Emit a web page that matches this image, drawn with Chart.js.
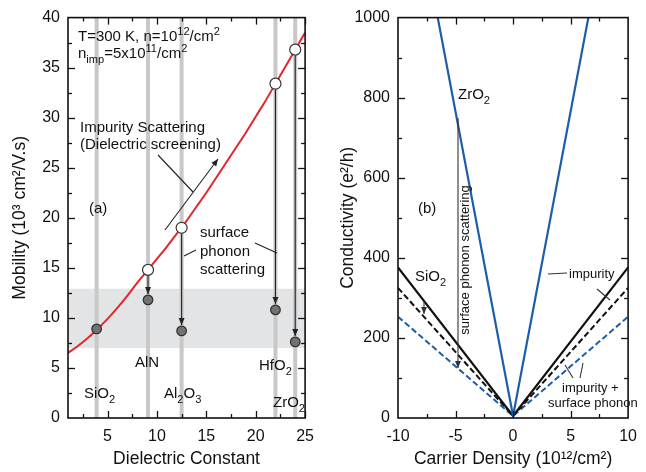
<!DOCTYPE html>
<html>
<head>
<meta charset="utf-8">
<script src="https://cdn.jsdelivr.net/npm/chart.js@4.4.1/dist/chart.umd.min.js"></script>
<style>
  html, body { margin: 0; padding: 0; background: #fff; }
  #wrap { position: relative; width: 646px; height: 472px; }
  canvas { position: absolute; top: 0; }
  #mobChart { left: 0; }
  #condChart { left: 323px; }
</style>
</head>
<body>
<div id="wrap">
  <canvas id="mobChart" width="323" height="472"></canvas>
  <canvas id="condChart" width="323" height="472"></canvas>
</div>
<script>
// panel (a): mobility vs dielectric constant
var dielectric = [1, 2, 3, 4, 5, 6, 7, 8, 9, 10, 11, 12, 13, 14, 15, 16, 17, 18, 19, 20, 21, 22, 23, 24, 25];
var impurityMobility = [6.5, 7.2, 8.0, 8.9, 9.9, 11.0, 12.2, 13.5, 14.7, 15.9, 17.1, 18.4, 19.7, 21.1, 22.5, 24.0, 25.5, 27.0, 28.5, 30.1, 31.7, 33.4, 35.1, 36.8, 38.5];
var materials = ['SiO2', 'AlN', 'Al2O3', 'HfO2', 'ZrO2'];
var materialK = [3.9, 9.1, 12.5, 22, 24];
var impurityOnly = [null, 14.8, 19, 33.4, 36.8];
var totalMobility = [8.9, 11.8, 8.7, 10.8, 7.6];
var bandLow = 7, bandHigh = 12.9;
var mobXTicks = [5, 10, 15, 20, 25];
var mobXMinor = [2.5, 7.5, 12.5, 17.5, 22.5];
var mobYMinor = [2.5, 7.5, 12.5, 17.5, 22.5, 27.5, 32.5, 37.5];

// panel (b): conductivity vs carrier density
var density = [-10, 0, 10];
var sigmaZrO2Imp = [1525, 5, 1525];
var sigmaSiO2Imp = [376, 5, 376];
var sigmaSiO2Total = [325, 5, 325];
var sigmaZrO2Total = [253, 5, 253];
var condXMinor = [-7.5, -2.5, 2.5, 7.5];
var condYMinor = [100, 300, 500, 700, 900];

var FONT = '"Liberation Sans", Arial, Helvetica, sans-serif';
var RED = '#e3262b', BLUE = '#1d5ea8';

function pts(xs, ys) {
  var out = [];
  for (var i = 0; i < xs.length; i++) if (ys[i] !== null) out.push({x: xs[i], y: ys[i]});
  return out;
}

function rich(ctx, x, y, parts, size) {
  var cx = x;
  ctx.textAlign = 'left';
  ctx.textBaseline = 'alphabetic';
  parts.forEach(function(p) {
    var m = p[1];
    var fs = m ? size * 0.74 : size;
    ctx.font = fs + 'px ' + FONT;
    var dy = m === 'sup' ? -size * 0.4 : (m === 'sub' ? size * 0.3 : 0);
    ctx.fillText(p[0], cx, y + dy);
    cx += ctx.measureText(p[0]).width;
  });
}

function line(ctx, x1, y1, x2, y2) {
  ctx.beginPath(); ctx.moveTo(x1, y1); ctx.lineTo(x2, y2); ctx.stroke();
}

function arrow(ctx, x1, y1, x2, y2) {
  line(ctx, x1, y1, x2, y2);
  var a = Math.atan2(y2 - y1, x2 - x1), L = 7, W = 3;
  ctx.beginPath();
  ctx.moveTo(x2, y2);
  ctx.lineTo(x2 - L * Math.cos(a) + W * Math.sin(a), y2 - L * Math.sin(a) - W * Math.cos(a));
  ctx.lineTo(x2 - L * Math.cos(a) - W * Math.sin(a), y2 - L * Math.sin(a) + W * Math.cos(a));
  ctx.closePath();
  ctx.fill();
}

// frame and inward ticks on all four sides
function frameTicks(chart, xMajor, xMinor, yMajor, yMinor) {
  var ctx = chart.ctx, a = chart.chartArea, sx = chart.scales.x, sy = chart.scales.y;
  ctx.save();
  ctx.strokeStyle = '#111';
  ctx.lineWidth = 1.3;
  [[xMajor, 7], [xMinor, 4]].forEach(function(s) {
    s[0].forEach(function(v) {
      var px = Math.round(sx.getPixelForValue(v)) + 0.5;
      line(ctx, px, a.bottom, px, a.bottom - s[1]);
      line(ctx, px, a.top, px, a.top + s[1]);
    });
  });
  [[yMajor, 7], [yMinor, 4]].forEach(function(s) {
    s[0].forEach(function(v) {
      var py = Math.round(sy.getPixelForValue(v)) + 0.5;
      line(ctx, a.left, py, a.left + s[1], py);
      line(ctx, a.right, py, a.right - s[1], py);
    });
  });
  ctx.lineWidth = 1.6;
  ctx.strokeRect(a.left, a.top, a.right - a.left, a.bottom - a.top);
  ctx.restore();
}

function baseScales(xmin, xmax, ymin, ymax, yStep, yw, xTitle, yTitle, yTitlePad) {
  return {
    x: {
      type: 'linear', min: xmin, max: xmax,
      grid: {display: false, drawTicks: false},
      border: {display: false},
      ticks: {stepSize: 5, padding: 9, color: '#111', font: {family: FONT, size: 16}},
      title: {display: true, text: xTitle, color: '#111', font: {family: FONT, size: 17.5}, padding: {top: 0, bottom: 2}},
      afterFit: function(s) { s.height = 54; }
    },
    y: {
      type: 'linear', min: ymin, max: ymax,
      grid: {display: false, drawTicks: false},
      border: {display: false},
      ticks: {stepSize: yStep, padding: 8, color: '#111', font: {family: FONT, size: 16},
        callback: function(v) { return String(v); }},
      title: {display: true, text: yTitle, color: '#111', font: {family: FONT, size: 17.5}, padding: {top: yTitlePad, bottom: 0}},
      afterFit: function(s) { s.width = yw; }
    }
  };
}

var commonPlugins = {legend: {display: false}, tooltip: {enabled: false}};

// ---------- panel (a) ----------
var mobScales = baseScales(1, 25, 0, 40, 5, 68, 'Dielectric Constant', 'Mobility (10\u00B3 cm\u00B2/V.s)', 10);
mobScales.x.afterBuildTicks = function(s) { s.ticks = mobXTicks.map(function(v) { return {value: v}; }); };

var mobDatasets = [{
  data: [{x: 1, y: bandHigh}, {x: 25, y: bandHigh}],
  showLine: true, borderWidth: 0, pointRadius: 0,
  backgroundColor: '#e3e4e6', fill: {value: bandLow}, order: 6
}];
materialK.forEach(function(k) {
  mobDatasets.push({
    data: [{x: k, y: 0}, {x: k, y: 40}], showLine: true,
    borderColor: '#c8c8c8', borderWidth: 4, pointRadius: 0, order: 5
  });
});
mobDatasets.push({
  data: pts(dielectric, impurityMobility), showLine: true,
  borderColor: RED, borderWidth: 2, pointRadius: 0,
  cubicInterpolationMode: 'monotone', order: 3
});
mobDatasets.push({
  data: pts(materialK, impurityOnly), pointRadius: 5.5,
  pointBackgroundColor: '#fff', pointBorderColor: '#333', pointBorderWidth: 1.2, order: 1
});
mobDatasets.push({
  data: pts(materialK, totalMobility), pointRadius: 4.8,
  pointBackgroundColor: '#727272', pointBorderColor: '#2e2e2e', pointBorderWidth: 1.2, order: 1
});

var mobPlugin = {
  id: 'mobDecor',
  afterDatasetsDraw: function(chart) {
    var ctx = chart.ctx, sx = chart.scales.x, sy = chart.scales.y;
    frameTicks(chart, mobXTicks, mobXMinor, [5, 10, 15, 20, 25, 30, 35], mobYMinor);
    ctx.save();
    ctx.strokeStyle = '#222'; ctx.fillStyle = '#222'; ctx.lineWidth = 1.1;
    // surface phonon arrows from impurity-only to total mobility
    for (var i = 0; i < materialK.length; i++) {
      if (impurityOnly[i] === null) continue;
      var px = sx.getPixelForValue(materialK[i]);
      arrow(ctx, px, sy.getPixelForValue(impurityOnly[i]) + 6, px, sy.getPixelForValue(totalMobility[i]) - 6);
    }
    arrow(ctx, 165, 230, 218, 159);
    line(ctx, 158, 155, 193, 192);
    line(ctx, 196, 250, 184, 256);
    line(ctx, 255, 243, 277, 253);
    ctx.fillStyle = '#111';
    rich(ctx, 78, 41, [['T=300 K, n=10'], ['12', 'sup'], ['/cm'], ['2', 'sup']], 15);
    rich(ctx, 78, 58, [['n'], ['imp', 'sub'], ['=5x10'], ['11', 'sup'], ['/cm'], ['2', 'sup']], 15);
    rich(ctx, 80, 132, [['Impurity Scattering']], 15);
    rich(ctx, 80, 149, [['(Dielectric screening)']], 15);
    rich(ctx, 89, 213, [['(a)']], 15);
    rich(ctx, 200, 237, [['surface']], 15);
    rich(ctx, 200, 256, [['phonon']], 15);
    rich(ctx, 200, 274, [['scattering']], 15);
    rich(ctx, 135, 367, [['AlN']], 15);
    rich(ctx, 84, 398, [['SiO'], ['2', 'sub']], 15);
    rich(ctx, 164, 398, [['Al'], ['2', 'sub'], ['O'], ['3', 'sub']], 15);
    rich(ctx, 259, 370, [['HfO'], ['2', 'sub']], 15);
    rich(ctx, 273, 407, [['ZrO'], ['2', 'sub']], 15);
    ctx.restore();
  }
};

new Chart(document.getElementById('mobChart').getContext('2d'), {
  type: 'scatter',
  data: {datasets: mobDatasets},
  options: {
    responsive: false, animation: false,
    layout: {padding: {left: 0, right: 16, top: 15, bottom: 0}},
    scales: mobScales,
    plugins: commonPlugins
  },
  plugins: [mobPlugin]
});

// ---------- panel (b) ----------
var condScales = baseScales(-10, 10, 0, 1000, 200, 75, 'Carrier Density (10\u00B9\u00B2/cm\u00B2)', 'Conductivity (e\u00B2/h)', 15);

var condPlugin = {
  id: 'condDecor',
  afterDatasetsDraw: function(chart) {
    var ctx = chart.ctx;
    frameTicks(chart, [-5, 0, 5], condXMinor, [200, 400, 600, 800], condYMinor);
    ctx.save();
    ctx.strokeStyle = '#333'; ctx.fillStyle = '#333'; ctx.lineWidth = 1.1;
    arrow(ctx, 135, 118, 135, 368);
    arrow(ctx, 101, 301, 101, 314);
    line(ctx, 244, 273, 225, 274);
    line(ctx, 274, 289, 287, 300);
    line(ctx, 250, 378, 242, 365);
    line(ctx, 257, 378, 260, 363);
    ctx.fillStyle = '#111';
    rich(ctx, 135, 99, [['ZrO'], ['2', 'sub']], 15);
    rich(ctx, 95, 213, [['(b)']], 15);
    rich(ctx, 92, 281, [['SiO'], ['2', 'sub']], 15);
    rich(ctx, 246, 278, [['impurity']], 13);
    rich(ctx, 239, 392, [['impurity +']], 13);
    rich(ctx, 225, 407, [['surface phonon']], 13);
    ctx.translate(142, 260);
    ctx.rotate(-Math.PI / 2);
    ctx.font = '13px ' + FONT;
    ctx.textAlign = 'center';
    ctx.textBaseline = 'middle';
    ctx.fillText('surface phonon scattering', 0, 0);
    ctx.restore();
  }
};

new Chart(document.getElementById('condChart').getContext('2d'), {
  type: 'scatter',
  data: {
    datasets: [{
      data: pts(density, sigmaZrO2Total), showLine: true,
      borderColor: BLUE, borderWidth: 2, borderDash: [6, 3], pointRadius: 0, order: 4
    }, {
      data: pts(density, sigmaSiO2Total), showLine: true,
      borderColor: '#111', borderWidth: 2, borderDash: [6, 3], pointRadius: 0, order: 3
    }, {
      data: pts(density, sigmaSiO2Imp), showLine: true,
      borderColor: '#111', borderWidth: 2.2, pointRadius: 0, order: 2
    }, {
      data: pts(density, sigmaZrO2Imp), showLine: true,
      borderColor: BLUE, borderWidth: 2.2, pointRadius: 0, order: 1
    }]
  },
  options: {
    responsive: false, animation: false,
    layout: {padding: {left: 0, right: 9, top: 15, bottom: 0}},
    scales: condScales,
    plugins: commonPlugins
  },
  plugins: [condPlugin]
});
</script>
</body>
</html>
